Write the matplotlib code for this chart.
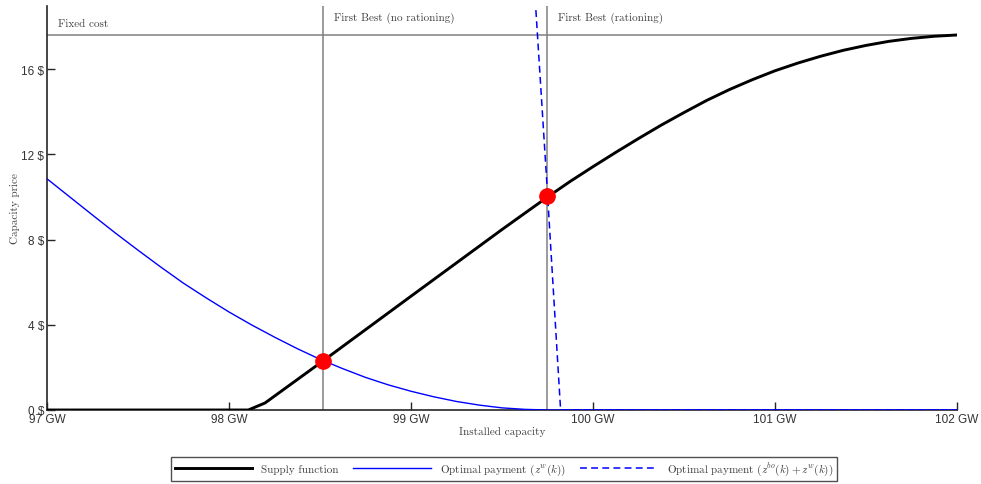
import numpy as np
import matplotlib
matplotlib.use("Agg")
import matplotlib.pyplot as plt

plt.rcParams["mathtext.fontset"] = "cm"
plt.rcParams["axes.unicode_minus"] = False

# ---------------------------------------------------------------------------
# Data
# ---------------------------------------------------------------------------
supply_x = [97.0, 98.106, 98.198, 98.516, 99.0, 99.5, 99.749, 99.875,
            100.0, 100.125, 100.25, 100.375, 100.5, 100.625, 100.75, 100.875,
            101.0, 101.125, 101.25, 101.375, 101.5, 101.625, 101.75, 101.875,
            102.0]
supply_y = [0.0, 0.0, 0.33, 2.30, 5.34, 8.47, 9.99, 10.73,
            11.42, 12.09, 12.74, 13.37, 13.96, 14.53, 15.04, 15.50,
            15.92, 16.28, 16.60, 16.88, 17.11, 17.30, 17.44, 17.54,
            17.60]

zw_x = [97.0, 97.125, 97.25, 97.375, 97.5, 97.625, 97.75, 97.875, 98.0,
        98.125, 98.25, 98.375, 98.5, 98.625, 98.75, 98.875, 99.0, 99.125,
        99.25, 99.375, 99.5, 99.625, 99.75, 102.0]
zw_y = [10.85, 10.0, 9.15, 8.31, 7.50, 6.71, 5.95, 5.26, 4.60,
        3.99, 3.42, 2.88, 2.38, 1.94, 1.53, 1.18, 0.88, 0.62,
        0.40, 0.23, 0.10, 0.03, 0.0, 0.0]

zbo_x = [99.68, 99.745, 99.822, 102.0]
zbo_y = [19.6, 10.85, 0.0, 0.0]

eq_x = [98.516, 99.747]
eq_y = [2.30, 10.05]

fixed_cost = 17.6
first_best = [98.516, 99.747]
vline_labels = ["First Best (no rationing)", "First Best (rationing)"]

xticks = [97, 98, 99, 100, 101, 102]
yticks = [0, 4, 8, 12, 16]

# ---------------------------------------------------------------------------
# Plot
# ---------------------------------------------------------------------------
SERIF = "cmr10"
C_TXT = "#404040"
C_TICK = "#262626"
C_GRID = "#808080"

fig = plt.figure(figsize=(9.81, 4.85), dpi=100)
ax = fig.add_axes([47 / 981, 1 - 411 / 485, 910 / 981, 404 / 485])

ax.set_xlim(97, 102)
ax.set_ylim(0, 18.96)

# reference lines
ax.plot([97, 102], [fixed_cost, fixed_cost], color=C_GRID, lw=1.1, zorder=1)
for xv, lab in zip(first_best, vline_labels):
    ax.axvline(xv, color=C_GRID, lw=1.1, zorder=1)
    ax.text(xv + 0.06, 18.45, lab, fontsize=8, family=SERIF, color=C_TXT,
            va="center", ha="left")
ax.text(97.06, 18.15, "Fixed cost", fontsize=8, family=SERIF, color=C_TXT,
        va="center", ha="left")

# curves
ax.plot(supply_x, supply_y, color="black", lw=2.1, zorder=4,
        label="Supply function", solid_joinstyle="round")
ax.plot(zw_x, zw_y, color="#0000ff", lw=1.0, zorder=3,
        label="Optimal payment ($z^{w}(k)$)")
ax.plot(zbo_x, zbo_y, color="#0000ff", lw=1.1, ls=(0, (4.5, 2.8)), zorder=3,
        label="Optimal payment ($z^{bo}(k) + z^{w}(k)$)")
ax.plot(eq_x, eq_y, "o", color="#ff0000", ms=11, zorder=5)

# axes styling
for side in ["top", "right"]:
    ax.spines[side].set_visible(False)
for side in ["left", "bottom"]:
    ax.spines[side].set_color(C_TICK)
    ax.spines[side].set_linewidth(1.2)

ax.set_xticks(xticks)
ax.set_xticklabels([f"{v} GW" for v in xticks])
ax.set_yticks(yticks)
ax.set_yticklabels([f"{v} $" for v in yticks])
ax.tick_params(direction="in", length=6, width=1.0, colors=C_TICK,
               labelsize=8.5, pad=2)
for lab in ax.get_xticklabels() + ax.get_yticklabels():
    lab.set_family("Liberation Sans")
    lab.set_color("#333333")

ax.set_xlabel("Installed capacity", family=SERIF, fontsize=8, color=C_TXT,
              labelpad=1)
ax.set_ylabel("Capacity price", family=SERIF, fontsize=8, color=C_TXT,
              labelpad=1)

leg = fig.legend(loc="center", bbox_to_anchor=(504 / 981, 1 - 470 / 485),
                 ncol=3, frameon=True, fancybox=False,
                 edgecolor=C_TICK, handlelength=7.0, columnspacing=1.3,
                 borderpad=0.35, prop={"family": SERIF, "size": 8})
leg.get_frame().set_linewidth(1.0)
for t in leg.get_texts():
    t.set_color(C_TXT)

fig.savefig("out.png", dpi=100)
